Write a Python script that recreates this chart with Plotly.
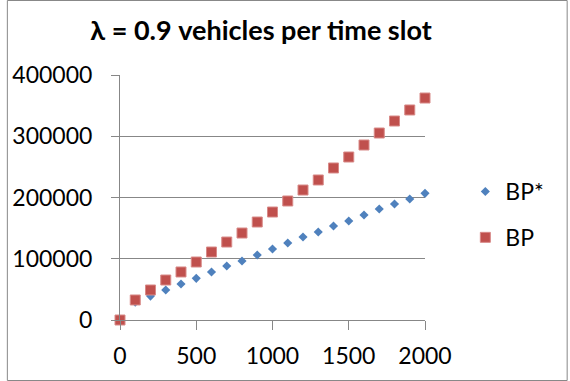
import plotly.graph_objects as go

x_vals = [0, 100, 200, 300, 400, 500, 600, 700, 800, 900, 1000,
          1100, 1200, 1300, 1400, 1500, 1600, 1700, 1800, 1900, 2000]
bp_star = [0, 29000, 39000, 49000, 58800, 68000, 78400, 88200, 96300, 106100, 115900,
           125700, 135500, 143700, 153500, 161600, 171400, 181200, 189400, 197600, 206800]
bp = [0, 32700, 49000, 65300, 78400, 94700, 111000, 127300, 142000, 160000, 176300,
      194300, 212200, 228600, 248200, 266100, 285700, 305300, 324900, 342900, 362400]
x_ticks = [0, 500, 1000, 1500, 2000]
y_ticks = [0, 100000, 200000, 300000, 400000]

BLUE = "#4F81BD"
RED = "#C0504D"
GRID = "#878787"
FONT = "Lato"

fig = go.Figure()
fig.add_trace(go.Scatter(x=x_vals, y=bp_star, mode="markers", name="BP*",
                         legendgroup="a",
                         marker=dict(symbol="diamond", size=7, color=BLUE),
                         cliponaxis=False))
fig.add_trace(go.Scatter(x=x_vals, y=bp, mode="markers", name="BP",
                         legendgroup="b",
                         marker=dict(symbol="square", size=10, color=RED,
                                     line=dict(width=1, color="#D88A88")),
                         cliponaxis=False))

L, R, T, B = 115, 145, 75, 61
W, H = 570, 381
pw, ph = W - L - R, H - T - B

fig.update_layout(
    width=W, height=H,
    margin=dict(l=L, r=R, t=T, b=B),
    paper_bgcolor="white", plot_bgcolor="white",
    font=dict(family=FONT, color="black", size=23),
    title=dict(text="<b>λ = 0.9 vehicles per time slot</b>",
               x=(261) / W, xanchor="center", y=1 - 31 / H, yanchor="middle",
               font=dict(family=FONT, size=27, color="black")),
    xaxis=dict(range=[0, 2000], tickvals=x_ticks, ticktext=[str(v) for v in x_ticks],
               showgrid=False, zeroline=False, showline=True, linecolor=GRID, linewidth=1,
               ticks="outside", ticklen=9, tickcolor=GRID, tickwidth=1,
               tickfont=dict(family=FONT, size=23), ticklabelstandoff=6),
    yaxis=dict(range=[0, 400000], tickvals=y_ticks, ticktext=[str(v) for v in y_ticks],
               showgrid=True, gridcolor=GRID, gridwidth=1, zeroline=False,
               showline=True, linecolor=GRID, linewidth=1,
               ticks="outside", ticklen=8, tickcolor=GRID, tickwidth=1,
               tickfont=dict(family=FONT, size=23), ticklabelstandoff=14),
    legend=dict(x=(466 - L) / pw, xanchor="left", y=(H - B - 170) / ph, yanchor="top",
                font=dict(family=FONT, size=23), bgcolor="rgba(0,0,0,0)",
                itemsizing="trace", tracegroupgap=13),
    shapes=[dict(type="rect", xref="paper", yref="paper",
                 x0=(0.5 - L) / pw, x1=(W - 0.5 - L) / pw,
                 y0=(-(B - 0.5)) / ph, y1=(H - B - 0.5) / ph,
                 line=dict(color="#888888", width=1), fillcolor="rgba(0,0,0,0)", layer="below")],
)

fig.write_html("out.html", config={"displayModeBar": False},
               post_script="document.body.style.margin='0';document.body.style.overflow='hidden';")
